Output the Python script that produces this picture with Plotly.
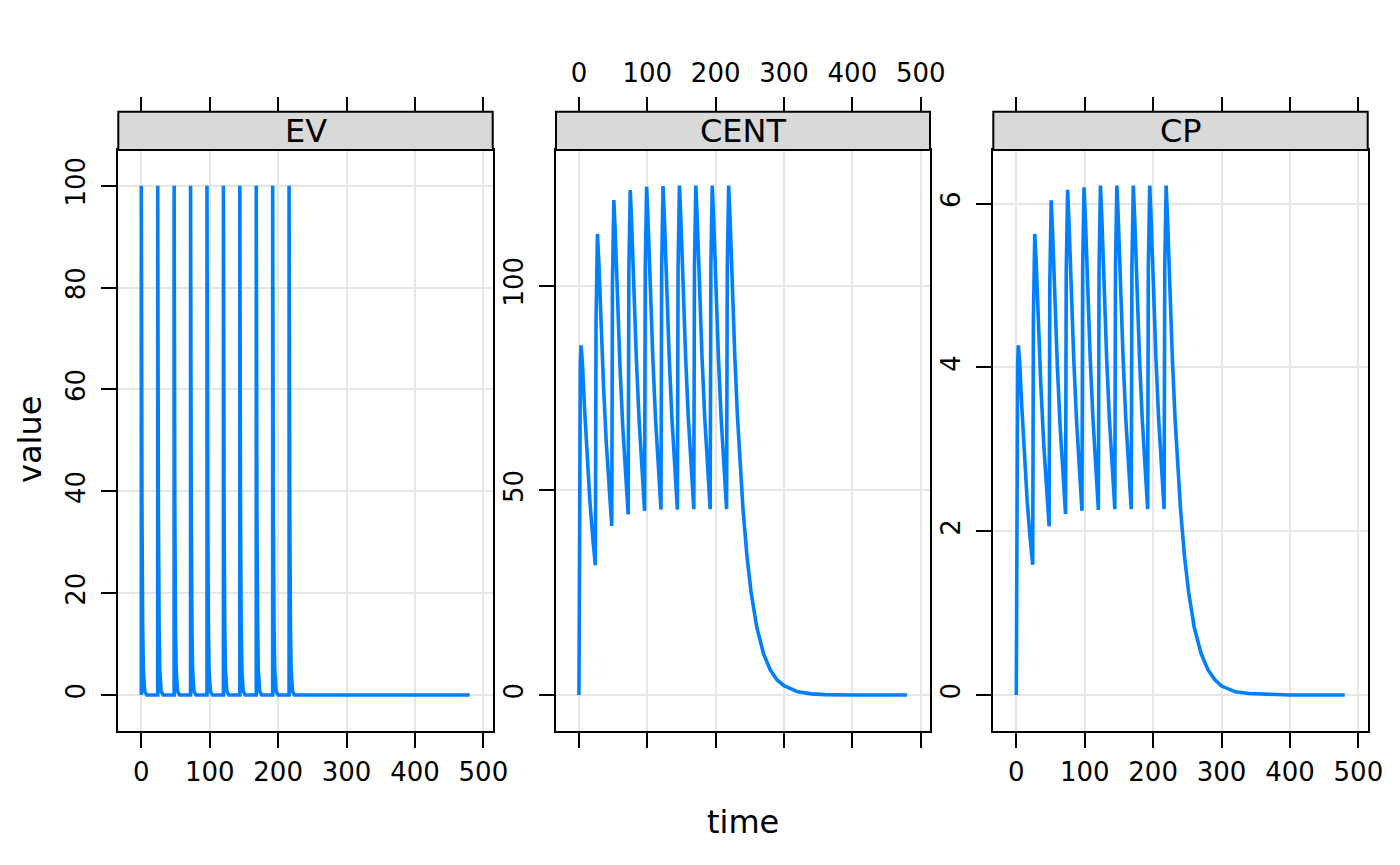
import plotly.graph_objects as go

# ---------------- data ----------------
PANELS = ["EV", "CENT", "CP"]

EV_TIME = [0, 0, 1, 2, 3, 5, 8,
           24, 24, 25, 26, 27, 29, 32,
           48, 48, 49, 50, 51, 53, 56,
           72, 72, 73, 74, 75, 77, 80,
           96, 96, 97, 98, 99, 101, 104,
           120, 120, 121, 122, 123, 125, 128,
           144, 144, 145, 146, 147, 149, 152,
           168, 168, 169, 170, 171, 173, 176,
           192, 192, 193, 194, 195, 197, 200,
           216, 216, 217, 218, 219, 221, 224,
           480]
EV_VALUE = [0, 100, 36.8, 13.5, 5.0, 0.7, 0.0,
            0, 100, 36.8, 13.5, 5.0, 0.7, 0.0,
            0, 100, 36.8, 13.5, 5.0, 0.7, 0.0,
            0, 100, 36.8, 13.5, 5.0, 0.7, 0.0,
            0, 100, 36.8, 13.5, 5.0, 0.7, 0.0,
            0, 100, 36.8, 13.5, 5.0, 0.7, 0.0,
            0, 100, 36.8, 13.5, 5.0, 0.7, 0.0,
            0, 100, 36.8, 13.5, 5.0, 0.7, 0.0,
            0, 100, 36.8, 13.5, 5.0, 0.7, 0.0,
            0, 100, 36.8, 13.5, 5.0, 0.7, 0.0,
            0.0]

PK_TIME = [0, 1, 2, 3, 5, 8, 12, 16, 20,
           24, 25, 26, 27, 29, 32, 36, 40, 44,
           48, 49, 50, 51, 53, 56, 60, 64, 68,
           72, 73, 74, 75, 77, 80, 84, 88, 92,
           96, 97, 98, 99, 101, 104, 108, 112, 116,
           120, 121, 122, 123, 125, 128, 132, 136, 140,
           144, 145, 146, 147, 149, 152, 156, 160, 164,
           168, 169, 170, 171, 173, 176, 180, 184, 188,
           192, 193, 194, 195, 197, 200, 204, 208, 212,
           216, 217, 218, 219, 221, 224, 228, 232, 236,
           240, 246, 252, 260, 270, 280, 290, 300, 320, 340, 360, 400, 440, 480]

CENT_VALUE = [0.0, 61.4, 81.0, 85.4, 81.3, 70.5, 57.8, 47.3, 38.7,
              31.7, 91.6, 109.7, 112.6, 106.0, 91.8, 75.2, 61.5, 50.4,
              41.3, 100.6, 118.3, 120.9, 113.4, 98.2, 80.4, 65.8, 53.9,
              44.1, 103.4, 120.9, 123.3, 115.6, 100.1, 82.0, 67.1, 55.0,
              45.0, 104.2, 121.7, 124.1, 116.3, 100.7, 82.5, 67.5, 55.3,
              45.3, 104.4, 121.9, 124.3, 116.5, 100.9, 82.6, 67.6, 55.4,
              45.3, 104.5, 122.0, 124.4, 116.6, 100.9, 82.7, 67.7, 55.4,
              45.4, 104.6, 122.0, 124.4, 116.6, 100.9, 82.7, 67.7, 55.4,
              45.4, 104.6, 122.0, 124.4, 116.6, 100.9, 82.7, 67.7, 55.4,
              45.4, 104.6, 122.0, 124.4, 116.6, 100.9, 82.7, 67.7, 55.4,
              45.4, 33.6, 24.9, 16.7, 10.1, 6.1, 3.7, 2.3, 0.8, 0.3, 0.1, 0.0, 0.0, 0.0]

CP_VALUE = [0.00, 3.07, 4.05, 4.27, 4.06, 3.53, 2.89, 2.36, 1.94,
            1.59, 4.58, 5.48, 5.63, 5.30, 4.59, 3.76, 3.08, 2.52,
            2.06, 5.03, 5.92, 6.04, 5.67, 4.91, 4.02, 3.29, 2.70,
            2.21, 5.17, 6.05, 6.17, 5.78, 5.00, 4.10, 3.36, 2.75,
            2.25, 5.21, 6.09, 6.20, 5.82, 5.03, 4.12, 3.38, 2.76,
            2.26, 5.22, 6.10, 6.22, 5.83, 5.04, 4.13, 3.38, 2.77,
            2.27, 5.23, 6.10, 6.22, 5.83, 5.05, 4.13, 3.38, 2.77,
            2.27, 5.23, 6.10, 6.22, 5.83, 5.05, 4.13, 3.38, 2.77,
            2.27, 5.23, 6.10, 6.22, 5.83, 5.05, 4.13, 3.38, 2.77,
            2.27, 5.23, 6.10, 6.22, 5.83, 5.05, 4.13, 3.38, 2.77,
            2.27, 1.68, 1.25, 0.83, 0.51, 0.31, 0.19, 0.11, 0.04, 0.02, 0.01, 0.0, 0.0, 0.0]

X_TICKS = [0, 100, 200, 300, 400, 500]
EV_TICKS = [0, 20, 40, 60, 80, 100]
CENT_TICKS = [0, 50, 100]
CP_TICKS = [0, 2, 4, 6]

X_RANGE = [-33.6, 513.6]
EV_RANGE = [-7.0, 107.0]
CENT_RANGE = [-8.7, 133.1]
CP_RANGE = [-0.435, 6.655]

# ---------------- layout geometry ----------------
W, H = 1400, 865
LINE_COLOR = "#0080ff"
FONT = "DejaVu Sans"
TICK_SIZE = 26
TEXT_SIZE = 32
panel_px = [(118.3, 492.7), (556.0, 930.0), (993.3, 1367.7)]
plot_top, plot_bot = 150.0, 730.7
strip_top = 111.7


def fx(px):
    return px / W


def fy(py):
    return 1 - py / H


series = [(EV_TIME, EV_VALUE), (PK_TIME, CENT_VALUE), (PK_TIME, CP_VALUE)]
yranges = [EV_RANGE, CENT_RANGE, CP_RANGE]
yticks = [EV_TICKS, CENT_TICKS, CP_TICKS]
labels_on_bottom = [True, False, True]

fig = go.Figure()
layout = dict(
    template="none",
    width=W, height=H, autosize=False,
    margin=dict(l=0, r=0, t=0, b=0, pad=0, autoexpand=False),
    paper_bgcolor="white", plot_bgcolor="white",
    showlegend=False,
    font=dict(family=FONT, color="black"),
)

tick_common = dict(
    tickmode="array", tickvals=X_TICKS, ticktext=[str(v) for v in X_TICKS],
    ticks="outside", ticklen=15, tickwidth=2, tickcolor="black",
    tickfont=dict(size=TICK_SIZE, family=FONT, color="black"),
    zeroline=False, automargin=False,
)

shapes = []
annotations = []
for i, name in enumerate(PANELS):
    bx = str(i + 1) if i else ""
    tx = str(i + 4)
    ys_ = str(i + 1) if i else ""
    xs, ys = series[i]
    fig.add_trace(go.Scatter(
        x=xs, y=ys, mode="lines",
        line=dict(color=LINE_COLOR, width=3.6),
        xaxis="x" + bx, yaxis="y" + ys_, hoverinfo="skip",
    ))
    # invisible companion trace so the top (strip-level) axis is drawn
    fig.add_trace(go.Scatter(
        x=xs, y=ys, mode="lines", opacity=0,
        line=dict(color=LINE_COLOR, width=0.1),
        xaxis="x" + tx, yaxis="y" + ys_, hoverinfo="skip",
    ))
    x0, x1 = panel_px[i]
    layout["xaxis" + bx] = dict(
        domain=[fx(x0), fx(x1)], anchor="y" + ys_, range=X_RANGE,
        side="bottom", showticklabels=labels_on_bottom[i],
        showline=True, linecolor="black", linewidth=2, mirror=True,
        showgrid=True, gridcolor="#e6e6e6", gridwidth=1.5,
        ticklabelstandoff=2,
        **tick_common,
    )
    layout["xaxis" + tx] = dict(
        domain=[fx(x0), fx(x1)], anchor="free", position=fy(strip_top),
        overlaying="x" + bx, range=X_RANGE,
        side="top", showticklabels=not labels_on_bottom[i],
        showline=False, showgrid=False,
        ticklabelstandoff=4,
        **tick_common,
    )
    layout["yaxis" + ys_] = dict(
        domain=[fy(plot_bot), fy(plot_top)], anchor="x" + bx, range=yranges[i],
        tickmode="array", tickvals=yticks[i], ticktext=[str(v) for v in yticks[i]],
        ticks="outside", ticklen=15, tickwidth=2, tickcolor="black",
        showline=True, linecolor="black", linewidth=2, mirror=True,
        showgrid=True, gridcolor="#e6e6e6", gridwidth=1.5, zeroline=False,
        automargin=False,
        tickangle=-90,
        tickfont=dict(size=TICK_SIZE, family=FONT, color="black"),
        ticklabelstandoff=6,
    )
    # strip
    shapes.append(dict(
        type="rect", xref="paper", yref="paper",
        x0=fx(x0), x1=fx(x1), y0=fy(plot_top), y1=fy(strip_top),
        fillcolor="#d9d9d9", line=dict(color="black", width=2), layer="above",
    ))
    annotations.append(dict(
        text=name, xref="paper", yref="paper",
        x=fx((x0 + x1) / 2), y=fy((plot_top + strip_top) / 2),
        xanchor="center", yanchor="middle", showarrow=False,
        font=dict(size=TEXT_SIZE, family=FONT, color="black"),
    ))

annotations.append(dict(
    text="time", xref="paper", yref="paper", x=fx(743), y=fy(822),
    xanchor="center", yanchor="middle", showarrow=False,
    font=dict(size=TEXT_SIZE, family=FONT, color="black"),
))
annotations.append(dict(
    text="value", xref="paper", yref="paper", x=fx(30), y=fy(440),
    xanchor="center", yanchor="middle", showarrow=False, textangle=-90,
    font=dict(size=TEXT_SIZE, family=FONT, color="black"),
))

layout["shapes"] = shapes
layout["annotations"] = annotations
fig.update_layout(**layout)

# remove the default page margin so the figure sits exactly in the window
PAGE_CSS_JS = (
    "document.documentElement.style.margin='0';"
    "document.documentElement.style.overflow='hidden';"
    "document.body.style.margin='0';"
    "document.body.style.overflow='hidden';"
)
fig.write_html("out.html", post_script=PAGE_CSS_JS,
               config={"displayModeBar": False, "responsive": False})
